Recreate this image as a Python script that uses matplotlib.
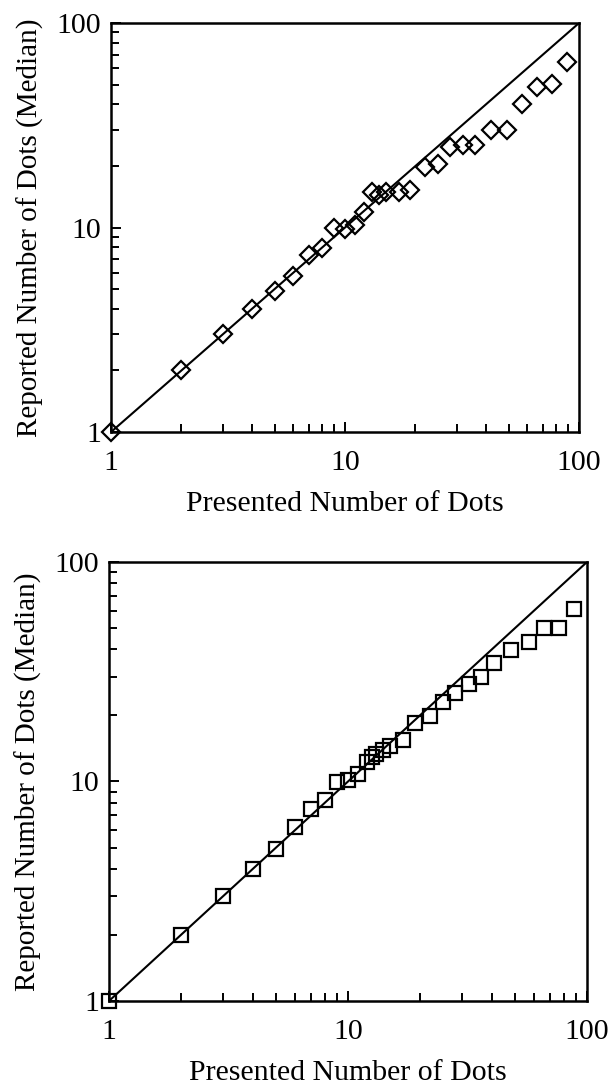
# Reported vs presented number of dots, two panels (log-log)

import numpy as np
import matplotlib
matplotlib.use('Agg')
import matplotlib.pyplot as plt
from matplotlib.ticker import LogLocator, NullFormatter, FixedLocator, FixedFormatter

plt.rcParams['font.family'] = ['Liberation Serif', 'DejaVu Serif']

# top panel (diamonds)
presented_top = [1, 2, 3, 4, 5, 6, 7, 8, 9, 10, 11, 12, 13, 14, 15, 17, 19,
                 22, 25, 28, 32, 36, 42, 49, 57, 66, 77, 89]
reported_top = [1, 2.0, 3.0, 4.0, 4.9, 5.8, 7.3, 7.9, 9.9, 9.8, 10.3, 11.9, 14.9,
                14.4, 14.9, 15.0, 15.3, 19.7, 20.4, 24.8, 25.2, 25.2, 29.9,
                29.9, 40.2, 48.4, 50.3, 64.5]

# bottom panel (squares)
presented_bot = [1, 2, 3, 4, 5, 6, 7, 8, 9, 10, 11, 12, 12.6, 13.1, 14, 15, 17,
                 19, 22, 25, 28, 32, 36, 41, 48, 57, 66, 76, 88]
reported_bot = [1, 2.0, 3.0, 4.0, 4.95, 6.2, 7.5, 8.2, 9.9, 10.2, 10.8, 12.3,
                12.9, 13.4, 13.9, 14.5, 15.4, 18.5, 19.8, 23.0, 25.2, 27.9,
                30.0, 34.8, 39.9, 43.2, 50.2, 50.2, 61.3]

ticks = [1, 10, 100]
tick_labels = ['1', '10', '100']

fig = plt.figure(figsize=(6.11, 10.86), dpi=100)
ax1 = fig.add_axes([0.1817, 0.6022, 0.766, 0.3766])
ax2 = fig.add_axes([0.1784, 0.0783, 0.7823, 0.4042])


def draw(ax, px, py, marker, ms):
    line_x = px + [100]
    ax.plot(line_x, line_x, color='black', linewidth=1.5)  # identity line
    ax.plot(px, py, linestyle='none', marker=marker, markersize=ms,
            markerfacecolor='none', markeredgecolor='black',
            markeredgewidth=1.6, clip_on=False, zorder=3)
    ax.set_xscale('log')
    ax.set_yscale('log')
    ax.set_xlim(1, 100)
    ax.set_ylim(1, 100)
    for a in (ax.xaxis, ax.yaxis):
        a.set_major_locator(FixedLocator(ticks))
        a.set_major_formatter(FixedFormatter(tick_labels))
        a.set_minor_locator(LogLocator(base=10, subs=np.arange(2, 10)))
        a.set_minor_formatter(NullFormatter())
    ax.tick_params(which='both', direction='in', top=False, right=False,
                   width=1.4, labelsize=21.5)
    ax.tick_params(which='major', length=7)
    ax.tick_params(which='minor', length=6)
    ax.tick_params(axis='x', which='major', pad=13)
    ax.tick_params(axis='y', which='major', pad=7)
    for s in ax.spines.values():
        s.set_linewidth(1.8)
    ax.set_xlabel('Presented Number of Dots', fontsize=21.5, labelpad=11)
    ax.set_ylabel('Reported Number of Dots (Median)', fontsize=21, labelpad=9)


draw(ax1, presented_top, reported_top, 'D', 9.5)
draw(ax2, presented_bot, reported_bot, 's', 10)

plt.savefig('out.png', dpi=100)
